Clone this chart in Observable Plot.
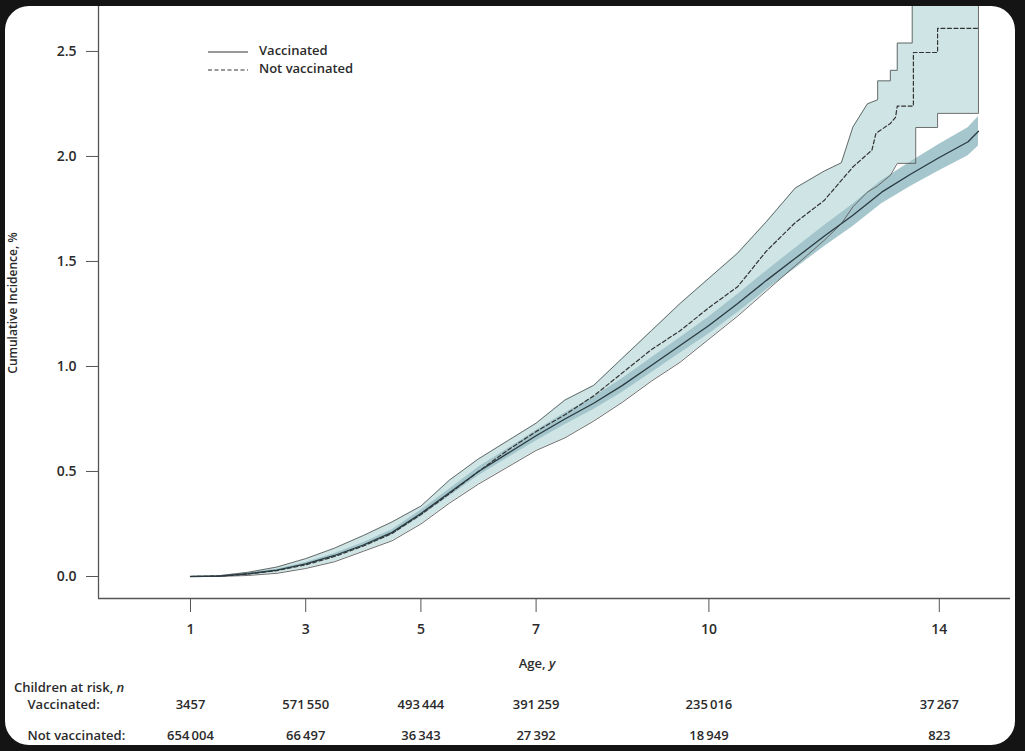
<!DOCTYPE html>
<html>
<head>
<meta charset="utf-8">
<script src="https://cdn.jsdelivr.net/npm/d3@7"></script>
<script src="https://cdn.jsdelivr.net/npm/@observablehq/plot@0.6"></script>
<style>
  html, body { margin: 0; padding: 0; background: #141414; width: 1025px; height: 751px; overflow: hidden; }
  #panel { position: absolute; left: 5px; top: 6px; width: 1010px; height: 739px; background: #fff; border-radius: 24px; overflow: hidden; }
  #inner { position: absolute; left: -5px; top: -6px; width: 1025px; height: 751px; }
  .abs { position: absolute; font-family: "Open Sans", "Noto Sans", sans-serif; font-weight: 600; color: #2b2b2b; white-space: nowrap; }
  #main, #risk { position: absolute; left: 0; }
  #main { top: 0; }
  #risk { top: 684px; }
  svg text { font-family: "Open Sans", "Noto Sans", sans-serif; font-weight: 600; fill: #2b2b2b; }
</style>
</head>
<body>
<div id="panel"><div id="inner">
  <div id="main"></div>
  <div id="risk"></div>
  <div class="abs" id="ylab" style="left:12px; top:303px; font-size:12px; line-height:13px; transform: translate(-50%,-50%) rotate(-90deg);">Cumulative Incidence, %</div>
  <div class="abs" style="left:537px; top:663px; font-size:13px; transform: translate(-50%,-50%);">Age, <i>y</i></div>
  <div class="abs" style="left:14px; top:687px; font-size:13px; transform: translateY(-50%);">Children at risk, <i>n</i></div>
  <div class="abs" style="left:208px; top:41px; font-size:13px; line-height:18px;">
    <div><svg width="40" height="10" style="vertical-align:middle"><line x1="0" x2="40" y1="5" y2="5" stroke="#333" stroke-width="1.2"/></svg><span style="margin-left:11px">Vaccinated</span></div>
    <div><svg width="40" height="10" style="vertical-align:middle"><line x1="0" x2="40" y1="5" y2="5" stroke="#333" stroke-width="1.2" stroke-dasharray="4,2.5"/></svg><span style="margin-left:11px">Not vaccinated</span></div>
  </div>
</div></div>
<script>
// ---- data ----
const ageTicks = [1, 3, 5, 7, 10, 14];
const riskGroups = ["Vaccinated", "Not vaccinated"];
const atRiskVaccinated = [3457, 571550, 493444, 391259, 235016, 37267];
const atRiskNotVaccinated = [654004, 66497, 36343, 27392, 18949, 823];

// Vaccinated: estimate and 95% CI
const vaccAge = [1, 1.5, 2, 2.5, 3, 3.5, 4, 4.5, 5, 5.5, 6, 6.5, 7, 7.5, 8, 8.5, 9, 9.5, 10, 10.5, 11, 11.5, 12, 12.5, 13, 13.5, 14, 14.5, 14.68];
const vaccEst = [0, 0.002, 0.013, 0.03, 0.06, 0.10, 0.15, 0.21, 0.30, 0.40, 0.50, 0.585, 0.67, 0.75, 0.825, 0.91, 1.005, 1.10, 1.195, 1.30, 1.41, 1.515, 1.62, 1.72, 1.83, 1.915, 1.995, 2.07, 2.12];
const vaccLo = [0, 0.001, 0.009, 0.025, 0.053, 0.091, 0.139, 0.197, 0.285, 0.383, 0.48, 0.563, 0.645, 0.722, 0.795, 0.877, 0.97, 1.063, 1.155, 1.257, 1.365, 1.467, 1.57, 1.667, 1.775, 1.857, 1.932, 2.003, 2.05];
const vaccHi = [0, 0.003, 0.017, 0.035, 0.067, 0.109, 0.161, 0.223, 0.315, 0.417, 0.52, 0.607, 0.695, 0.778, 0.855, 0.943, 1.04, 1.137, 1.235, 1.343, 1.455, 1.563, 1.67, 1.773, 1.885, 1.973, 2.058, 2.137, 2.19];

// Not vaccinated: 95% CI band
const nvBandAge = [1, 1.5, 2, 2.5, 3, 3.5, 4, 4.5, 5, 5.5, 6, 6.5, 7, 7.5, 8, 8.5, 9, 9.5, 10, 10.5, 11, 11.5, 12, 12.3, 12.5, 12.75, 12.93, 12.93, 13.15, 13.15, 13.27, 13.27, 13.53, 13.53, 13.59, 13.59, 13.97, 13.97, 14.68];
const nvLo = [0, 0, 0.005, 0.015, 0.038, 0.07, 0.12, 0.17, 0.25, 0.35, 0.44, 0.52, 0.60, 0.66, 0.74, 0.83, 0.93, 1.02, 1.13, 1.24, 1.36, 1.48, 1.60, 1.68, 1.76, 1.83, 1.86, 1.86, 1.91, 1.91, 1.967, 1.967, 1.967, 1.967, 1.967, 2.138, 2.138, 2.205, 2.205];
const nvHi = [0, 0.004, 0.02, 0.045, 0.085, 0.135, 0.195, 0.26, 0.335, 0.46, 0.56, 0.645, 0.73, 0.84, 0.91, 1.04, 1.17, 1.30, 1.42, 1.54, 1.69, 1.85, 1.93, 1.97, 2.14, 2.25, 2.27, 2.36, 2.36, 2.41, 2.41, 2.54, 2.54, 2.9, 2.9, 2.9, 2.9, 2.9, 2.9];

// Not vaccinated: estimate
const nvAge = [1, 1.5, 2, 2.5, 3, 3.5, 4, 4.5, 5, 5.5, 6, 6.5, 7, 7.5, 8, 8.5, 9, 9.5, 10, 10.5, 11, 11.5, 12, 12.5, 12.83, 12.9, 13.15, 13.24, 13.27, 13.55, 13.55, 13.97, 13.97, 14.7];
const nvEst = [0, 0.002, 0.012, 0.028, 0.055, 0.095, 0.145, 0.205, 0.295, 0.395, 0.50, 0.60, 0.69, 0.77, 0.86, 0.97, 1.08, 1.17, 1.28, 1.38, 1.55, 1.685, 1.79, 1.95, 2.03, 2.11, 2.157, 2.186, 2.24, 2.24, 2.495, 2.495, 2.61, 2.61];

// ---- tables built from the arrays ----
const vacc = vaccAge.map((a, i) => ({age: a, est: vaccEst[i], lo: vaccLo[i], hi: vaccHi[i]}));
const nvBand = nvBandAge.map((a, i) => ({age: a, lo: nvLo[i], hi: nvHi[i]}));
const nvOutline = [
  ...nvBand.map(d => ({age: d.age, y: d.hi})),
  ...nvBand.slice().reverse().map(d => ({age: d.age, y: d.lo}))
];
const nv = nvAge.map((a, i) => ({age: a, est: nvEst[i]}));

const xDomain = [-0.597, 15.236];
const yDomain = [-0.1048, 2.714];
const W = 1025;

const main = Plot.plot({
  width: W,
  height: 680,
  marginLeft: 98,
  marginRight: 15,
  marginTop: 6,
  marginBottom: 82,
  clip: true,
  style: {fontFamily: "Open Sans, Noto Sans, sans-serif", fontSize: "14px", background: "transparent", overflow: "visible"},
  x: {domain: xDomain},
  y: {domain: yDomain},
  marks: [
    Plot.areaY(nvBand, {x: "age", y1: "lo", y2: "hi", fill: "#cfe5e5", curve: "linear"}),
    Plot.areaY(vacc, {x: "age", y1: "lo", y2: "hi", fill: "#a0c3c9", fillOpacity: 0.95, curve: "linear"}),
    Plot.line(nvOutline, {x: "age", y: "y", stroke: "#5c5c5c", strokeWidth: 0.9, curve: "linear"}),
    Plot.line(nv, {x: "age", y: "est", stroke: "#333", strokeWidth: 1.2, strokeDasharray: "4,2.5", curve: "linear"}),
    Plot.line(vacc, {x: "age", y: "est", stroke: "#2a3a40", strokeWidth: 1.3, curve: "linear"}),
    Plot.ruleX([xDomain[0]], {stroke: "#555", strokeWidth: 1.3, clip: false}),
    Plot.ruleY([yDomain[0]], {stroke: "#555", strokeWidth: 1.3, clip: false}),
    Plot.axisY({ticks: [0, 0.5, 1, 1.5, 2, 2.5], tickFormat: d3.format(".1f"), tickSize: 12, tickPadding: 10, label: null, stroke: "#555", fontSize: 14}),
    Plot.axisX({ticks: ageTicks, tickFormat: d => String(d), tickSize: 14, tickPadding: 12, label: null, stroke: "#555", fontSize: 14})
  ]
});
document.getElementById("main").appendChild(main);

const locale = d3.formatLocale({decimal: ".", thousands: "\u2009", grouping: [3], currency: ["", ""]});
const grp = locale.format(",d");
const fmtN = n => n >= 10000 ? grp(n) : String(n);

const riskRows = [
  ...ageTicks.map((a, i) => ({age: a, group: riskGroups[0], n: atRiskVaccinated[i]})),
  ...ageTicks.map((a, i) => ({age: a, group: riskGroups[1], n: atRiskNotVaccinated[i]}))
];

const risk = Plot.plot({
  width: W,
  height: 66,
  marginLeft: 98,
  marginRight: 15,
  marginTop: 0,
  marginBottom: 0,
  style: {fontFamily: "Open Sans, Noto Sans, sans-serif", fontSize: "13px", background: "transparent", overflow: "visible"},
  x: {domain: xDomain, axis: null},
  y: {type: "point", domain: riskGroups, range: [20, 51], padding: 0, axis: null},
  marks: [
    Plot.text(riskRows, {x: "age", y: "group", text: d => fmtN(d.n), fontSize: 13}),
    Plot.text(riskGroups, {x: () => xDomain[0], y: d => d, text: d => d + ":", textAnchor: "start", dx: -71, fontSize: 13})
  ]
});
document.getElementById("risk").appendChild(risk);
</script>
</body>
</html>
